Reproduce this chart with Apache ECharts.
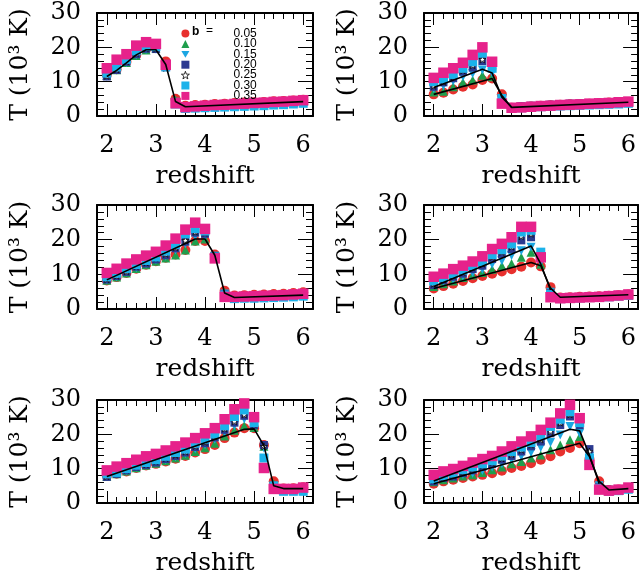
<!DOCTYPE html>
<html><head><meta charset="utf-8">
<script src="https://cdn.jsdelivr.net/npm/echarts@6/dist/echarts.min.js"></script>
<style>html,body{margin:0;padding:0;background:#fff}#c{width:639px;height:581px}</style>
</head><body><div id="c"></div><script>
// redshift grid
const Z = [2.0,2.2,2.4,2.6,2.8,3.0,3.2,3.4,3.6,3.8,4.0,4.2,4.4,4.6,4.8,5.0,5.2,5.4,5.6,5.8,6.0];
const B_NAMES = ['0.05','0.10','0.15','0.20','0.25','0.30','0.35'];

// Panel 1 (top-left)
const p1_b05 = [12.0,13.6,15.8,17.8,19.5,20.7,15.9,5.0,3.0,3.2,3.3,3.5,3.6,3.8,3.9,4.0,4.1,4.3,4.4,4.5,4.7];
const p1_b10 = [11.8,13.5,15.6,17.6,19.2,19.8,15.2,4.6,2.8,3.0,3.1,3.2,3.3,3.4,3.5,3.6,3.7,3.8,3.9,4.0,4.2];
const p1_b15 = [11.6,13.4,15.6,17.8,19.4,19.5,14.5,4.0,2.5,2.6,2.7,2.8,2.9,3.0,3.1,3.2,3.3,3.4,3.5,3.6,3.8];
const p1_b20 = [11.5,13.4,15.8,18.0,19.6,19.5,14.2,3.8,2.6,2.8,2.9,3.0,3.1,3.2,3.3,3.4,3.5,3.6,3.7,3.8,4.0];
const p1_b25 = [11.7,13.6,16.0,18.3,19.8,19.6,14.0,3.8,2.7,2.9,3.0,3.1,3.2,3.3,3.4,3.5,3.6,3.7,3.8,3.9,4.1];
const p1_b30 = [12.5,14.3,16.5,19.0,20.3,20.2,14.3,3.5,2.2,2.3,2.4,2.5,2.6,2.7,2.8,2.9,3.0,3.2,3.3,3.5,3.7];
const p1_b35 = [13.9,16.4,18.0,20.5,21.5,21.0,14.9,3.7,2.6,2.8,3.0,3.2,3.3,3.5,3.6,3.8,3.9,4.1,4.2,4.4,4.6];
const p1_lineA_z = [2.0,2.2,2.4,2.6,2.8,3.0,3.2,3.4,3.6,6.0];
const p1_lineA_T = [11.5,13.3,15.5,17.8,19.3,19.3,15.0,4.2,2.7,4.2];

// Panel 2 (top-right)
const p2_b05 = [6.3,6.8,7.7,8.5,9.2,10.5,10.9,6.3,2.4,2.6,2.8,3.0,3.1,3.3,3.4,3.5,3.6,3.8,3.9,4.0,4.1];
const p2_b10 = [7.0,7.2,8.5,9.8,10.5,11.9,11.4,5.5,2.5,2.6,2.8,2.9,3.0,3.2,3.3,3.4,3.5,3.6,3.8,3.9,4.0];
const p2_b15 = [8.0,8.8,10.2,11.4,12.4,13.4,12.5,5.0,2.5,2.6,2.7,2.9,3.0,3.1,3.2,3.3,3.4,3.5,3.6,3.7,3.9];
const p2_b20 = [8.5,9.8,11.0,12.9,14.1,16.0,14.4,4.8,2.6,2.8,3.0,3.2,3.3,3.5,3.6,3.7,3.7,3.8,3.9,4.0,4.1];
const p2_b25 = [8.8,10.0,11.5,13.3,14.8,16.5,14.8,4.7,2.6,2.8,3.0,3.1,3.3,3.4,3.5,3.6,3.7,3.8,3.9,4.0,4.1];
const p2_b30 = [10.0,10.8,12.1,13.9,15.8,18.3,13.9,5.1,2.3,2.4,2.6,2.7,2.8,2.9,3.0,3.1,3.2,3.3,3.4,3.5,3.7];
const p2_b35 = [11.1,12.6,13.9,15.5,17.8,20.0,15.8,3.6,2.4,2.5,2.7,2.9,3.0,3.2,3.3,3.4,3.6,3.7,3.8,4.0,4.2];
const p2_lineA_z = [2.0,3.2,3.4,3.6,6.0];
const p2_lineA_T = [6.3,10.9,6.0,2.5,4.0];
const p2_lineB_z = [2.0,3.0,3.2,3.4,3.6];
const p2_lineB_T = [8.3,13.6,12.5,5.5,2.6];

// Panel 3 (middle-left)
const p3_b05 = [8.2,9.2,10.4,11.6,12.8,13.8,14.8,15.7,17.0,19.6,19.6,15.7,5.3,3.9,4.0,4.1,4.2,4.3,4.4,4.6,4.8];
const p3_b10 = [8.3,9.2,10.4,11.7,12.8,13.8,14.7,15.6,17.0,19.6,20.2,15.4,4.8,3.4,3.5,3.6,3.7,3.8,3.9,4.0,4.1];
const p3_b15 = [8.4,9.3,10.6,11.9,13.0,14.1,15.2,17.0,18.8,21.0,21.0,15.2,4.3,3.2,3.3,3.4,3.5,3.6,3.7,3.8,3.9];
const p3_b20 = [8.5,9.5,10.7,12.2,13.1,14.3,15.5,17.5,19.4,22.0,21.7,15.2,4.2,3.2,3.3,3.4,3.5,3.6,3.7,3.8,4.0];
const p3_b25 = [8.6,9.6,10.9,12.3,13.4,14.6,15.9,17.8,19.8,22.3,22.0,15.3,4.2,3.3,3.4,3.5,3.6,3.7,3.8,3.9,4.0];
const p3_b30 = [9.3,10.3,11.7,12.8,14.0,15.0,16.7,18.6,21.7,23.2,22.5,15.0,4.0,3.0,3.1,3.1,3.2,3.3,3.4,3.5,3.7];
const p3_b35 = [10.4,11.6,13.1,14.3,15.4,16.5,18.3,20.3,22.9,24.9,23.1,14.6,3.5,3.5,3.6,3.7,3.8,3.9,4.0,4.2,4.4];
const p3_lineA_z = [2.0,3.8,4.0,4.2,4.4,4.6,6.0];
const p3_lineA_T = [8.4,20.2,20.2,15.5,4.6,3.3,4.0];

// Panel 4 (middle-right)
const p4_b05 = [5.9,6.6,7.3,8.1,8.9,9.5,10.2,10.8,11.5,12.2,13.4,12.3,6.3,3.3,3.4,3.5,3.6,3.7,3.8,4.0,4.2];
const p4_b10 = [6.5,7.3,8.1,9.1,9.8,10.5,11.5,12.5,13.1,14.9,16.4,12.9,5.5,3.2,3.3,3.4,3.5,3.6,3.7,3.9,4.1];
const p4_b15 = [7.0,7.9,8.6,9.5,10.5,11.5,12.9,13.9,15.4,16.8,17.8,13.5,4.8,3.1,3.2,3.3,3.4,3.5,3.6,3.8,4.0];
const p4_b20 = [6.9,8.3,9.3,10.2,11.5,12.5,14.4,15.9,17.3,19.8,20.7,15.5,4.5,3.2,3.3,3.4,3.5,3.6,3.7,3.9,4.1];
const p4_b25 = [7.3,8.6,9.7,10.7,12.0,13.1,15.0,16.5,18.0,21.0,21.7,15.8,4.4,3.2,3.3,3.4,3.5,3.6,3.7,3.9,4.1];
const p4_b30 = [8.1,9.1,10.2,11.2,12.5,13.7,15.7,17.1,18.8,22.2,22.7,16.4,4.2,3.0,3.1,3.2,3.3,3.4,3.5,3.7,3.9];
const p4_b35 = [9.3,10.2,11.5,12.5,13.7,15.2,17.3,18.8,20.7,23.7,23.7,14.9,3.4,3.1,3.2,3.3,3.4,3.5,3.7,3.9,4.2];
const p4_lineA_z = [2.0,4.0,4.2,4.4,4.6,6.0];
const p4_lineA_T = [5.9,13.4,12.5,6.0,3.4,4.1];
const p4_lineB_z = [2.0,4.0,4.2,4.4];
const p4_lineB_T = [6.5,18.2,13.0,5.5];

// Panel 5 (bottom-left)
const p5_b05 = [7.9,8.5,9.2,10.2,10.9,11.4,12.1,12.9,13.7,14.7,15.7,16.9,18.9,20.5,21.8,21.8,16.9,6.3,4.2,4.3,4.6];
const p5_b10 = [7.8,8.5,9.3,10.3,11.0,11.6,12.3,13.1,13.9,15.0,16.1,17.4,19.5,21.2,22.5,22.0,16.5,5.5,4.0,4.0,4.2];
const p5_b15 = [7.7,8.5,9.4,10.4,11.1,11.8,12.6,13.5,14.4,15.8,17.0,18.6,20.6,22.6,24.5,22.5,16.0,5.0,3.6,3.6,3.7];
const p5_b20 = [7.6,8.5,9.5,10.5,11.1,11.8,12.8,13.7,14.7,16.3,17.4,19.1,21.3,23.4,25.4,22.7,16.9,4.8,3.8,3.8,3.9];
const p5_b25 = [7.8,8.7,9.7,10.7,11.3,12.1,13.1,14.0,15.0,16.6,17.8,19.5,21.7,23.8,25.8,23.0,16.5,4.8,3.9,3.9,4.0];
const p5_b30 = [8.5,8.9,10.0,11.0,11.8,12.6,13.6,14.7,15.7,17.4,18.6,20.1,22.5,25.2,27.1,23.4,13.1,4.8,3.4,3.4,3.4];
const p5_b35 = [9.5,10.6,11.6,12.6,13.6,14.3,15.3,16.5,17.6,18.9,20.3,21.8,24.4,27.3,29.0,25.0,10.2,4.1,4.1,4.1,4.5];
const p5_lineA_z = [2.0,4.8,5.0,5.2,5.4,5.6,6.0];
const p5_lineA_T = [7.7,21.5,21.6,16.7,5.0,4.2,4.2];

// Panel 6 (bottom-right)
const p6_b05 = [5.6,6.3,6.8,7.3,7.7,8.2,8.7,9.4,10.2,10.8,11.6,12.6,13.6,15.0,16.0,17.4,12.8,6.3,3.8,3.9,4.4];
const p6_b10 = [6.2,6.8,7.3,7.9,8.2,8.9,9.7,10.5,11.4,12.1,13.1,14.0,15.5,16.9,18.4,19.4,13.5,5.6,3.6,3.8,4.2];
const p6_b15 = [6.6,7.3,7.7,8.3,8.7,9.5,10.5,11.4,12.6,13.6,14.7,16.2,17.6,19.8,22.3,20.3,13.5,5.0,3.4,3.6,4.0];
const p6_b20 = [6.3,7.3,7.7,8.7,9.5,10.5,11.3,12.6,13.7,15.0,16.5,17.9,20.3,22.7,25.2,22.7,15.7,4.6,3.9,3.8,4.1];
const p6_b25 = [6.7,7.6,8.1,9.1,9.9,10.9,11.8,13.0,14.2,15.5,17.0,18.5,20.9,23.4,25.8,23.2,15.0,4.5,3.7,3.8,4.1];
const p6_b30 = [7.0,7.9,8.7,9.7,10.5,11.4,12.3,13.7,15.0,16.3,17.6,19.6,22.3,24.4,26.6,23.4,13.1,4.3,3.4,3.6,4.0];
const p6_b35 = [8.2,9.2,9.9,10.8,11.8,12.8,13.7,15.0,16.5,17.9,19.4,21.3,23.4,26.1,28.6,24.7,11.1,3.9,3.6,3.9,4.5];
const p6_lineA_z = [2.0,5.0,5.2,5.4,5.6,6.0];
const p6_lineA_T = [5.6,17.4,13.5,6.3,3.8,4.2];
const p6_lineB_z = [2.0,4.8,5.0,5.2,5.4];
const p6_lineB_T = [6.4,21.5,21.0,14.0,5.6];

const panels = [
  {vals:[p1_b05,p1_b10,p1_b15,p1_b20,p1_b25,p1_b30,p1_b35], lines:[[p1_lineA_z,p1_lineA_T]]},
  {vals:[p2_b05,p2_b10,p2_b15,p2_b20,p2_b25,p2_b30,p2_b35], lines:[[p2_lineA_z,p2_lineA_T],[p2_lineB_z,p2_lineB_T]]},
  {vals:[p3_b05,p3_b10,p3_b15,p3_b20,p3_b25,p3_b30,p3_b35], lines:[[p3_lineA_z,p3_lineA_T]]},
  {vals:[p4_b05,p4_b10,p4_b15,p4_b20,p4_b25,p4_b30,p4_b35], lines:[[p4_lineA_z,p4_lineA_T],[p4_lineB_z,p4_lineB_T]]},
  {vals:[p5_b05,p5_b10,p5_b15,p5_b20,p5_b25,p5_b30,p5_b35], lines:[[p5_lineA_z,p5_lineA_T]]},
  {vals:[p6_b05,p6_b10,p6_b15,p6_b20,p6_b25,p6_b30,p6_b35], lines:[[p6_lineA_z,p6_lineA_T],[p6_lineB_z,p6_lineB_T]]}
];

const STAR = 'path://M0,-10 L2.35,-3.24 L9.51,-3.09 L3.8,1.24 L5.88,8.09 L0,4 L-5.88,8.09 L-3.8,1.24 L-9.51,-3.09 L-2.35,-3.24 Z';
const DOWN_TRI = 'path://M-10,-8 L10,-8 L0,9 Z';
const styles = [
  {symbol:'circle', size:10, item:{color:'#e8302e', opacity:1}},
  {symbol:'triangle', size:9, item:{color:'#1f9e4c', opacity:1}},
  {symbol:DOWN_TRI, size:9, item:{color:'#1ba6e2', opacity:1}},
  {symbol:'rect', size:8, item:{color:'#2b3990', opacity:1}},
  {symbol:STAR, size:7, item:{color:'#ffffff', borderColor:'#000', borderWidth:0.8, opacity:1}},
  {symbol:'rect', size:9, item:{color:'#1bb2ea', opacity:1}},
  {symbol:'rect', size:10.5, item:{color:'#e6228b', opacity:1}}
];

const gridPos = [
  {left:97, top:13, width:216, height:103},
  {left:424, top:13, width:215, height:103},
  {left:97, top:205, width:216, height:104},
  {left:424, top:205, width:215, height:104},
  {left:97, top:400, width:216, height:103},
  {left:424, top:400, width:215, height:103}
];

const SERIF = 'DejaVu Serif';
const xAxis = [], yAxis = [], series = [];
gridPos.forEach((g, i) => {
  const xc = {type:'value', gridIndex:i, min:1.8, max:6.2, splitNumber:5, splitLine:{show:false},
    axisLine:{show:true, onZero:false, lineStyle:{color:'#000', width:2}},
    axisTick:{show:true, inside:true, length:12, lineStyle:{color:'#000', width:1}},
    minorTick:{show:true, splitNumber:5, length:6, lineStyle:{color:'#000', width:1}}};
  xAxis.push(Object.assign({}, xc, {position:'bottom',
    axisLabel:{show:true, showMinLabel:false, showMaxLabel:false, margin:18, fontSize:24, fontFamily:SERIF, color:'#000'},
    name:'redshift', nameLocation:'middle', nameGap:48,
    nameTextStyle:{fontSize:25, fontFamily:SERIF, color:'#000'}}));
  xAxis.push(Object.assign({}, xc, {position:'top', axisLabel:{show:false}}));
  const yc = {type:'value', gridIndex:i, min:0, max:30, interval:10, splitLine:{show:false},
    axisLine:{show:true, onZero:false, lineStyle:{color:'#000', width:2}},
    axisTick:{show:true, inside:true, length:15, lineStyle:{color:'#000', width:1}},
    minorTick:{show:true, splitNumber:5, length:7, lineStyle:{color:'#000', width:1}}};
  yAxis.push(Object.assign({}, yc, {position:'left',
    axisLabel:{show:true, margin:16, fontSize:24, fontFamily:SERIF, color:'#000'},
    name:'T (10³ K)', nameLocation:'middle', nameGap:64,
    nameTextStyle:{fontSize:25, fontFamily:SERIF, color:'#000'}}));
  yAxis.push(Object.assign({}, yc, {position:'right', axisLabel:{show:false}}));
});

panels.forEach((p, i) => {
  p.vals.forEach((arr, k) => {
    const st = styles[k];
    series.push({type:'scatter', name:B_NAMES[k], xAxisIndex:2*i, yAxisIndex:2*i,
      symbol:st.symbol, symbolSize:st.size, itemStyle:st.item,
      data: Z.map((z, j) => [z, arr[j]]), silent:true, z:2});
  });
  p.lines.forEach(([lz, lt]) => {
    series.push({type:'line', xAxisIndex:2*i, yAxisIndex:2*i, symbol:'none',
      lineStyle:{color:'#000', width:1.6}, data: lz.map((z, j) => [z, lt[j]]), silent:true, z:3});
  });
});

const legendData = B_NAMES.map((n, k) => ({name:n, icon:styles[k].symbol, itemStyle:styles[k].item}));

const chart = echarts.init(document.getElementById('c'), null, {renderer:'canvas'});
chart.setOption({
  animation:false,
  backgroundColor:'#fff',
  grid: gridPos.map(g => Object.assign({containLabel:false}, g)),
  xAxis, yAxis, series,
  legend:{data:legendData, orient:'vertical', left:181, top:27, itemWidth:8, itemHeight:8, itemGap:-2.6,
    selectedMode:false, padding:0,
    textStyle:{fontSize:12, lineHeight:13, fontFamily:'Liberation Sans', color:'#000', padding:[0,0,0,39]}},
  graphic:[
    {type:'text', left:192, top:26, style:{text:'b', font:'bold 12px "Liberation Sans"', fill:'#000'}},
    {type:'text', left:206, top:25, style:{text:'=', font:'12px "Liberation Sans"', fill:'#000'}}
  ]
});
</script></body></html>
